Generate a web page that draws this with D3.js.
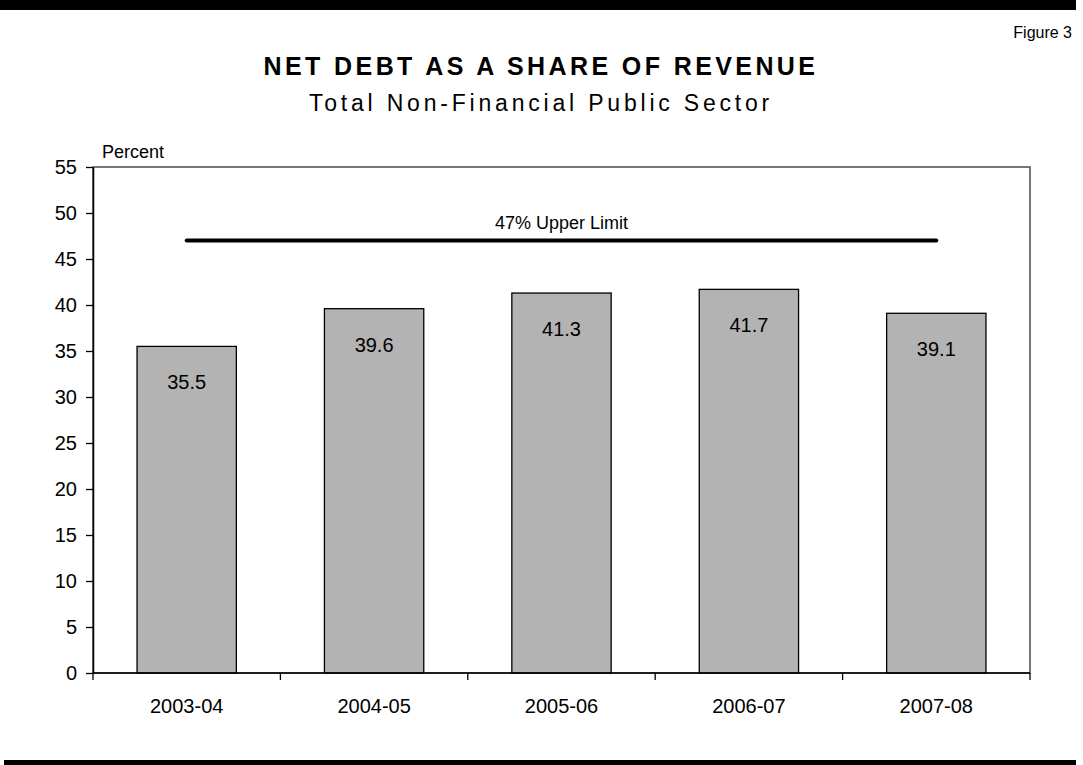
<!DOCTYPE html>
<html>
<head>
<meta charset="utf-8">
<script src="https://cdn.jsdelivr.net/npm/d3@7"></script>
<style>
  html, body { margin: 0; padding: 0; background: #fff; }
  svg { display: block; font-family: Arial, "Liberation Sans", sans-serif; }
</style>
</head>
<body>
<svg id="chart" width="1083" height="765"></svg>
<script>
// Fiscal years and net debt as a share of revenue (percent)
const years = ["2003-04", "2004-05", "2005-06", "2006-07", "2007-08"];
const netDebtShare = [35.5, 39.6, 41.3, 41.7, 39.1];
const upperLimit = 47;
const yTicks = [0, 5, 10, 15, 20, 25, 30, 35, 40, 45, 50, 55];

const svg = d3.select("#chart");
const plot = { left: 93, right: 1030, top: 167, bottom: 673 };

// Heavy rules at top and bottom of the page
svg.append("rect").attr("x", 0).attr("y", 0).attr("width", 1076).attr("height", 10).attr("fill", "#000");
svg.append("rect").attr("x", 4).attr("y", 760).attr("width", 1072).attr("height", 10).attr("fill", "#000");

svg.append("text").attr("x", 1072).attr("y", 38).attr("text-anchor", "end")
  .attr("font-size", 16).text("Figure 3");

svg.append("text").attr("x", 541).attr("y", 75).attr("text-anchor", "middle")
  .attr("font-size", 25).attr("font-weight", "bold").attr("letter-spacing", 3.4)
  .text("NET DEBT AS A SHARE OF REVENUE");
svg.append("text").attr("x", 541).attr("y", 111).attr("text-anchor", "middle")
  .attr("font-size", 23).attr("letter-spacing", 3.8)
  .text("Total Non-Financial Public Sector");

const x = d3.scaleBand().domain(years).range([plot.left, plot.right]).paddingInner(0.47).paddingOuter(0.235);
const xCat = d3.scaleBand().domain(years).range([plot.left, plot.right]);
const y = d3.scaleLinear().domain([0, 55]).range([plot.bottom, plot.top]);

// Plot area frame
svg.append("rect")
  .attr("x", plot.left).attr("y", plot.top)
  .attr("width", plot.right - plot.left).attr("height", plot.bottom - plot.top)
  .attr("fill", "none").attr("stroke", "#4a4a4a").attr("stroke-width", 1.5);

// Bars
svg.append("g").selectAll("rect").data(netDebtShare).join("rect")
  .attr("x", (d, i) => x(years[i]))
  .attr("y", d => y(d))
  .attr("width", x.bandwidth())
  .attr("height", d => y(0) - y(d))
  .attr("fill", "#b3b3b3").attr("stroke", "#000").attr("stroke-width", 1.3);

// Value labels inside the bars
svg.append("g").selectAll("text").data(netDebtShare).join("text")
  .attr("x", (d, i) => xCat(years[i]) + xCat.bandwidth() / 2)
  .attr("y", d => y(d) + 43)
  .attr("text-anchor", "middle").attr("font-size", 20)
  .text(d => d.toFixed(1));

// Upper limit line
svg.append("line")
  .attr("x1", xCat(years[0]) + xCat.bandwidth() / 2)
  .attr("x2", xCat(years[years.length - 1]) + xCat.bandwidth() / 2)
  .attr("y1", y(upperLimit)).attr("y2", y(upperLimit))
  .attr("stroke", "#000").attr("stroke-width", 4).attr("stroke-linecap", "round");
svg.append("text").attr("x", (plot.left + plot.right) / 2).attr("y", y(upperLimit) - 12)
  .attr("text-anchor", "middle").attr("font-size", 18).text(upperLimit + "% Upper Limit");

// Y axis
const yAxis = svg.append("g").attr("transform", `translate(${plot.left},0)`)
  .call(d3.axisLeft(y).tickValues(yTicks).tickSize(7).tickSizeOuter(0).tickPadding(9));
yAxis.select(".domain").attr("stroke", "#000").attr("stroke-width", 1.5);
yAxis.selectAll(".tick line").attr("stroke", "#000").attr("stroke-width", 1.3);
yAxis.selectAll(".tick text").attr("font-size", 20).attr("fill", "#000")
  .attr("font-family", "Arial, 'Liberation Sans', sans-serif");

svg.append("text").attr("x", 102).attr("y", 158).attr("font-size", 18).text("Percent");

// X axis with ticks at category boundaries
svg.append("line").attr("x1", plot.left).attr("x2", plot.right)
  .attr("y1", plot.bottom).attr("y2", plot.bottom).attr("stroke", "#000").attr("stroke-width", 1.5);
const bounds = years.map(d => xCat(d)).concat([plot.right]);
svg.append("g").selectAll("line").data(bounds).join("line")
  .attr("x1", d => d).attr("x2", d => d)
  .attr("y1", plot.bottom).attr("y2", plot.bottom + 7)
  .attr("stroke", "#000").attr("stroke-width", 1.3);
svg.append("g").selectAll("text").data(years).join("text")
  .attr("x", d => xCat(d) + xCat.bandwidth() / 2)
  .attr("y", plot.bottom + 40)
  .attr("text-anchor", "middle").attr("font-size", 20)
  .text(d => d);
</script>
</body>
</html>
